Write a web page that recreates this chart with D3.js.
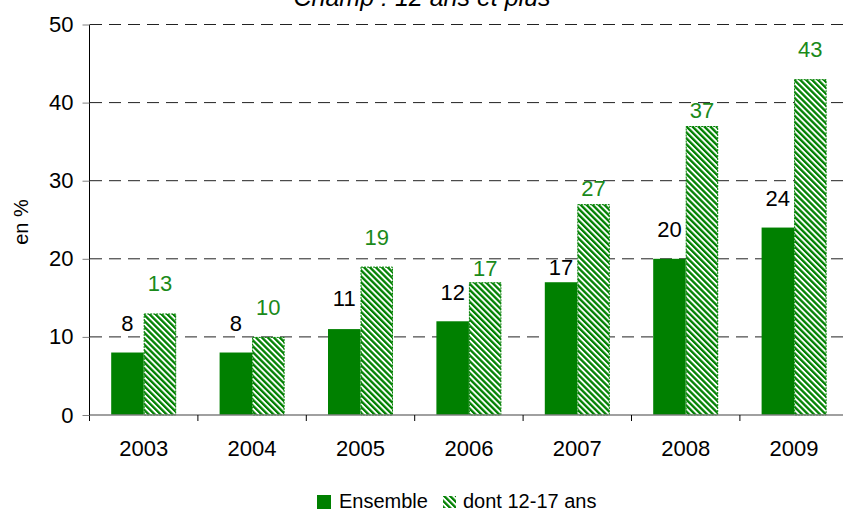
<!DOCTYPE html>
<html>
<head>
<meta charset="utf-8">
<script src="https://cdn.jsdelivr.net/npm/d3@7"></script>
<style>
  body { margin: 0; background: #fff; }
  svg { display: block; font-family: "Liberation Sans", Arial, sans-serif; }
</style>
</head>
<body>
<script>
// Data
const years = ["2003", "2004", "2005", "2006", "2007", "2008", "2009"];
const ensemble = [8, 8, 11, 12, 17, 20, 24];
const jeunes = [13, 10, 19, 17, 27, 37, 43];
const yTicks = [0, 10, 20, 30, 40, 50];
const seriesNames = ["Ensemble", "dont 12-17 ans"];
const titleText = "Champ : 12 ans et plus";
const yLabel = "en %";

// Gap (px) between bar top and label baseline, as placed in the original
const gapEnsemble = [22, 22, 23, 21, 7, 22, 22];
const gapJeunes = [22, 22, 22, 6, 8, 8, 22];

const W = 843, H = 511;
const green = "#008000";
const labelGreen = "#1a8a1a";

const svg = d3.select("body").append("svg")
  .attr("width", W).attr("height", H);

// Hatch pattern
const defs = svg.append("defs");
const pat = defs.append("pattern")
  .attr("id", "hatch")
  .attr("patternUnits", "userSpaceOnUse")
  .attr("width", 4.2).attr("height", 4.2)
  .attr("patternTransform", "rotate(-45)");
pat.append("rect").attr("width", 4.2).attr("height", 4.2).attr("fill", "#fff");
pat.append("rect").attr("width", 2.3).attr("height", 4.2).attr("fill", green);

// Scales
const x = d3.scaleBand()
  .domain(years)
  .range([89.5, 89.5 + 7 * 108.4])
  .paddingInner(0).paddingOuter(0);

const y = d3.scaleLinear().domain([0, 50]).range([415, 24.5]);

const barW = 32.5;

// Gridlines
svg.append("g")
  .selectAll("line")
  .data(yTicks.filter((d) => d > 0))
  .join("line")
  .attr("x1", 90).attr("x2", W)
  .attr("y1", (d) => y(d)).attr("y2", (d) => y(d))
  .attr("stroke", "#222")
  .attr("stroke-width", 1)
  .attr("stroke-dasharray", "12,7");

// Title (partly cut off at top, as in the original)
svg.append("text")
  .attr("x", 422).attr("y", 6)
  .attr("text-anchor", "middle")
  .style("font-size", "25px")
  .style("font-style", "italic")
  .attr("fill", "#000")
  .text(titleText);

// Bars
const groups = svg.append("g")
  .selectAll("g")
  .data(years)
  .join("g");

groups.append("rect")
  .attr("x", (d) => x(d) + x.bandwidth() / 2 - barW)
  .attr("y", (d, i) => y(ensemble[i]))
  .attr("width", barW)
  .attr("height", (d, i) => y(0) - y(ensemble[i]))
  .attr("fill", green);

groups.append("rect")
  .attr("x", (d) => x(d) + x.bandwidth() / 2 + 0.5)
  .attr("y", (d, i) => y(jeunes[i]) + 0.5)
  .attr("width", barW - 1)
  .attr("height", (d, i) => y(0) - y(jeunes[i]) - 0.5)
  .attr("fill", "url(#hatch)")
  .attr("stroke", green)
  .attr("stroke-width", 1)
  .attr("stroke-dasharray", "2,1");

// Value labels
groups.append("text")
  .attr("x", (d) => x(d) + x.bandwidth() / 2 - barW / 2)
  .attr("y", (d, i) => y(ensemble[i]) - gapEnsemble[i])
  .attr("text-anchor", "middle")
  .style("font-size", "22px")
  .attr("fill", "#000")
  .text((d, i) => ensemble[i]);

groups.append("text")
  .attr("x", (d) => x(d) + x.bandwidth() / 2 + barW / 2)
  .attr("y", (d, i) => y(jeunes[i]) - gapJeunes[i])
  .attr("text-anchor", "middle")
  .style("font-size", "22px")
  .attr("fill", labelGreen)
  .text((d, i) => jeunes[i]);

// X axis
const xAxis = svg.append("g").attr("transform", "translate(0,415)");
xAxis.append("line")
  .attr("x1", 89.5).attr("x2", W)
  .attr("stroke", "#808080").attr("stroke-width", 1.5);
xAxis.selectAll(".tk")
  .data(years)
  .join("line")
  .attr("class", "tk")
  .attr("x1", (d) => x(d) + x.bandwidth()).attr("x2", (d) => x(d) + x.bandwidth())
  .attr("y1", 0).attr("y2", 6)
  .attr("stroke", "#000");
xAxis.selectAll("text")
  .data(years)
  .join("text")
  .attr("x", (d) => x(d) + x.bandwidth() / 2)
  .attr("y", 41)
  .attr("text-anchor", "middle")
  .style("font-size", "22px")
  .attr("fill", "#000")
  .text((d) => d);

// Y axis
const yAxis = svg.append("g")
  .attr("transform", "translate(89.5,0)")
  .call(d3.axisLeft(y).tickValues(yTicks).tickSize(7).tickPadding(9));
yAxis.select(".domain").attr("stroke", "#000").attr("d", `M0,${y(0) + 6}V${y(50)}`);
yAxis.selectAll(".tick line").attr("stroke", "#808080").attr("x2", -7);
yAxis.selectAll(".tick text")
  .style("font-size", "22px")
  .style("font-family", "Liberation Sans, Arial, sans-serif")
  .attr("fill", "#000");

// Y axis label
svg.append("text")
  .attr("transform", "translate(28,222) rotate(-90)")
  .attr("text-anchor", "middle")
  .style("font-size", "20px")
  .attr("fill", "#000")
  .text(yLabel);

// Legend
const legend = svg.append("g");
legend.append("rect")
  .attr("x", 317).attr("y", 495).attr("width", 14).attr("height", 14)
  .attr("fill", green);
legend.append("text")
  .attr("x", 339).attr("y", 508)
  .style("font-size", "20px")
  .attr("fill", "#000")
  .text(seriesNames[0]);
legend.append("rect")
  .attr("x", 443).attr("y", 496).attr("width", 13).attr("height", 12)
  .attr("fill", "url(#hatch)");
legend.append("text")
  .attr("x", 463).attr("y", 508)
  .style("font-size", "20px")
  .attr("fill", "#000")
  .text(seriesNames[1]);
</script>
</body>
</html>
